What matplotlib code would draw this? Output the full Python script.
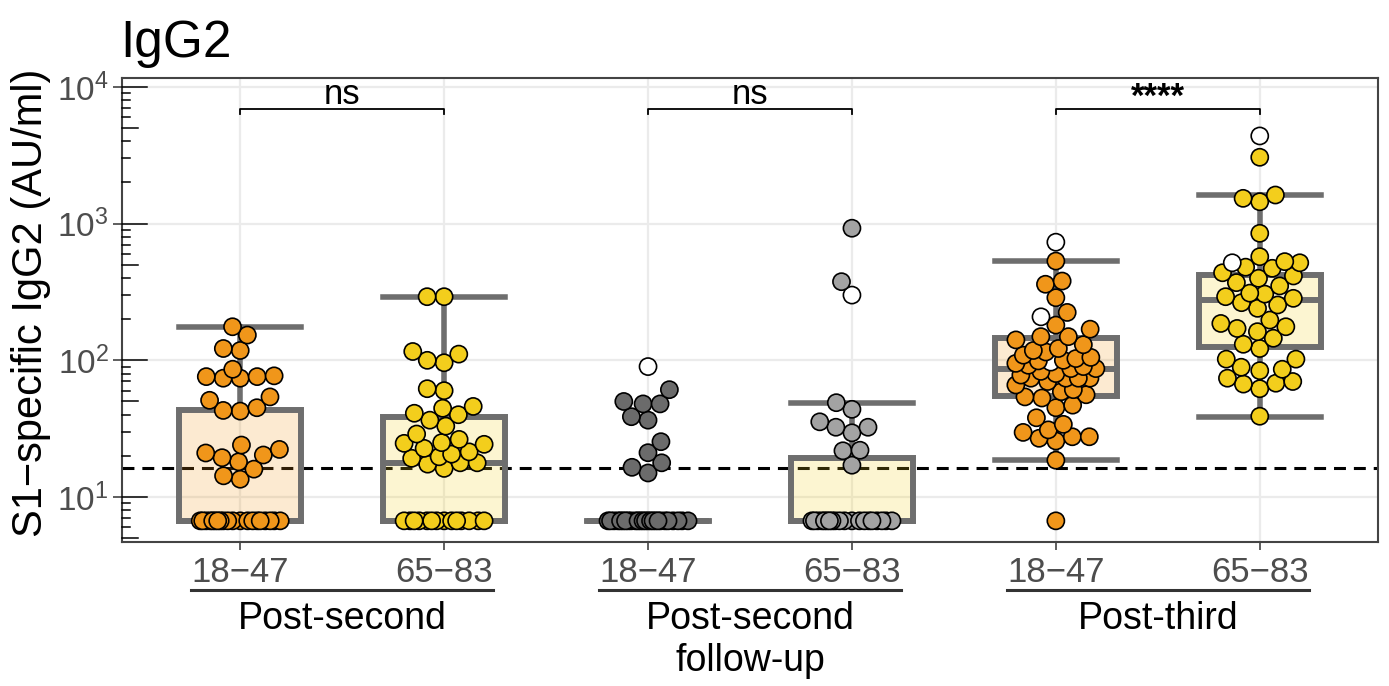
import numpy as np
import matplotlib
matplotlib.use("Agg")
import matplotlib.pyplot as plt
from matplotlib.transforms import blended_transform_factory

plt.rcParams['font.family'] = ['Liberation Sans', 'DejaVu Sans']
plt.rcParams['mathtext.fontset'] = 'custom'
plt.rcParams['mathtext.rm'] = 'Liberation Sans'
plt.rcParams['mathtext.it'] = 'Liberation Sans:italic'

# ---- data: S1-specific IgG2 (AU/ml) ----
timepoints = ["Post-second", "Post-second\nfollow-up", "Post-third"]
age_groups = ["18−47", "65−83"]

floor_value = 6.7     # samples below detection are plotted here
cutoff = 16.2         # positivity threshold

ps_young = [176, 153, 122, 118, 86, 77, 76, 76, 74, 74, 54, 51, 45, 43, 42.5,
            24, 22.3, 21, 20.3, 19.4, 18.1, 16, 14.3, 13.5]
ps_old = [292, 292, 116, 111, 100, 96, 62, 60, 46, 44.6, 41, 40, 36.5, 33, 28.9,
          26.4, 25, 24.7, 24.3, 22.7, 21.4, 20.6, 19.7, 19.2, 17.8, 17.8, 17.4, 16.2]
fu_young = [61, 50, 48, 48, 38.7, 36.5, 25.4, 21.1, 17.8, 16.5, 15]
fu_old = [925, 376, 49, 43.8, 35.5, 32.4, 32.4, 29.5, 22, 21.8, 17.1]
pt_young = [532, 380, 360, 287, 224, 181, 169, 149, 149, 141, 130, 122, 118, 115,
            109, 105, 103, 100, 99, 95, 92, 90, 87, 87, 83, 80, 78, 74, 74, 74, 74,
            70, 66, 61, 59, 56, 54, 53, 47, 45, 38, 34, 31, 29.7, 27.6, 27.6, 26.9,
            25.7, 18.6]
pt_old = [3055, 1618, 1530, 1445, 849, 573, 527, 517, 480, 471, 437, 414, 398, 370,
          350, 310, 305, 292, 284, 264, 254, 240, 197, 186, 176, 171, 162, 145, 131,
          122, 102, 102, 89, 86, 84, 74, 70, 68, 67, 62, 39]

# previously infected donors (open symbols)
open_values = [[], [], [90], [300], [731, 208, 97], [4375, 517]]
# number of donors below detection in each group
n_floor = [20, 14, 26, 20, 1, 0]

# box summary per group
box_q1 = [6.7, 6.7, 6.7, 6.7, 55, 126]
box_med = [6.7, 17.8, 6.7, 6.7, 87, 276]
box_q3 = [43.3, 38.3, 6.7, 19.2, 145, 421]
box_lo = [6.7, 6.7, 6.7, 6.7, 18.6, 38.7]
box_hi = [176, 292, 6.7, 49, 535, 1618]

sig_labels = ["ns", "ns", "****"]

values = [ps_young, ps_old, fu_young, fu_old, pt_young, pt_old]
point_colors = ['#F0961A', '#F3CE1C', '#6B6B6B', '#A3A3A3', '#F0961A', '#F3CE1C']
box_fills = [(0.94, 0.59, 0.10, 0.2), (0.95, 0.81, 0.11, 0.2)]

positions = np.arange(1, 7)

fig = plt.figure(figsize=(13.89, 6.86), dpi=100)
ax = fig.add_axes([0.0878, 0.2099, 0.9043, 0.6764])
ax.set_yscale('log')
ax.set_xlim(0.42, 6.58)
ax.set_ylim(4.69, 11610)


def swarm_offsets(ypix, diam, max_w):
    """beeswarm-like x offsets (pixels), kept within +-max_w"""
    order = np.argsort(ypix, kind='stable')
    xs = np.zeros(len(ypix))
    placed = []
    for i in order:
        y = ypix[i]
        near = [(xs[j], ypix[j]) for j in placed if abs(ypix[j] - y) < diam]
        cands = [0.0]
        for xj, yj in near:
            dx = np.sqrt(diam ** 2 - (yj - y) ** 2)
            cands += [xj - dx, xj + dx]
        cands.sort(key=abs)
        best = None
        for c in cands:
            if abs(c) > max_w + 1e-9:
                break
            if all((c - xj) ** 2 + (y - yj) ** 2 >= diam ** 2 - 1e-6 for xj, yj in near):
                best = c
                break
        if best is None:
            grid = np.linspace(-max_w, max_w, 33)
            gaps = [min(np.hypot(g - xj, y - yj) for xj, yj in near) for g in grid]
            best = grid[int(np.argmax(gaps))]
        xs[i] = best
        placed.append(i)
    return xs, order


# grid, cutoff line, boxes
ax.grid(True, which='major', color='#EBEBEB', lw=1.6)
ax.set_axisbelow(True)
ax.axhline(cutoff, color='black', lw=2.2, ls=(0, (3.9, 2.6)), zorder=1.5)

stats = [dict(med=box_med[i], q1=box_q1[i], q3=box_q3[i], whislo=box_lo[i],
              whishi=box_hi[i], fliers=[]) for i in range(6)]
edge = '#6E6E6E'
bp = ax.bxp(stats, positions=positions, widths=0.6, capwidths=0.6, patch_artist=True,
            showfliers=False, manage_ticks=False, zorder=2,
            boxprops=dict(edgecolor=edge, linewidth=4.3),
            medianprops=dict(color=edge, linewidth=4.3),
            whiskerprops=dict(color=edge, linewidth=4.0),
            capprops=dict(color=edge, linewidth=4.0))
for i, patch in enumerate(bp['boxes']):
    patch.set_facecolor(box_fills[i % 2])
    patch.set_edgecolor(edge)

# points
px_per_unit = ax.transData.transform([[1, 1]])[0, 0] - ax.transData.transform([[0, 1]])[0, 0]
for i, pos in enumerate(positions):
    vals = list(values[i]) + list(open_values[i]) + [floor_value] * n_floor[i]
    cols = ([point_colors[i]] * len(values[i]) + ['white'] * len(open_values[i])
            + [point_colors[i]] * n_floor[i])
    vals = np.array(vals, dtype=float)
    ypix = ax.transData.transform(np.column_stack([np.full(len(vals), pos), vals]))[:, 1]
    offs, order = swarm_offsets(ypix, 17.0, 40.0)
    xs = pos + offs / px_per_unit
    ax.scatter(xs[order], vals[order], s=152, c=[cols[k] for k in order],
               edgecolors='black', linewidths=1.2, zorder=3)

# log ticks inside the left axis
trans_y = blended_transform_factory(ax.transAxes, ax.transData)
lo, hi = ax.get_ylim()
for dec in [1, 10, 100, 1000, 10000]:
    for k in range(1, 10):
        v = k * dec
        if v < lo or v > hi:
            continue
        ln = 0.020 if k == 1 else (0.0127 if k == 5 else 0.0064)
        ax.plot([0, ln], [v, v], transform=trans_y, color='black', lw=1.1,
                clip_on=False, zorder=4)

# axes styling
ax.set_yticks([10, 100, 1000, 10000])
ax.yaxis.set_minor_locator(matplotlib.ticker.NullLocator())
ax.tick_params(axis='y', labelsize=24, labelcolor='#4D4D4D', length=6.5, width=1.1,
               color='#333333', pad=3)
ax.set_xticks(positions)
ax.set_xticklabels(age_groups * 3)
ax.tick_params(axis='x', labelsize=25, labelcolor='#4D4D4D', length=6, width=1.1,
               color='#333333', pad=4)
for sp in ax.spines.values():
    sp.set_color('#444444')
    sp.set_linewidth(1.5)

# significance brackets
bar_y, tick_y = 6890, 6330
for k, lab in enumerate(sig_labels):
    x0, x1 = positions[2 * k], positions[2 * k + 1]
    ax.plot([x0, x0, x1, x1], [tick_y, bar_y, bar_y, tick_y], color='black', lw=1.3,
            zorder=4, clip_on=False)
    if lab == "ns":
        ax.text((x0 + x1) / 2, 7500, lab, ha='center', va='baseline', fontsize=25, zorder=5)
    else:
        ax.text((x0 + x1) / 2, 8440, lab, ha='center', va='center', fontsize=25,
                fontweight='bold', zorder=5)

# timepoint labels under the age groups
trans_x = blended_transform_factory(ax.transData, ax.transAxes)
for k, name in enumerate(timepoints):
    c = (positions[2 * k] + positions[2 * k + 1]) / 2
    ax.plot([c - 0.74, c + 0.74], [-0.103, -0.103], transform=trans_x, color='#333333',
            lw=2.2, clip_on=False)
    ax.text(c, -0.127, name, transform=trans_x, ha='center', va='top',
            fontsize=27, linespacing=1.2)

ax.set_xlim(0.42, 6.58)
ax.set_ylim(4.69, 11610)

fig.text(0.0864, 0.917, "IgG2", fontsize=37, ha='left', va='baseline')
fig.text(0.0225, 0.558, "S1−specific IgG2 (AU/ml)", rotation=90, ha='center',
         va='center', fontsize=30)

fig.savefig("out.png", dpi=100)
